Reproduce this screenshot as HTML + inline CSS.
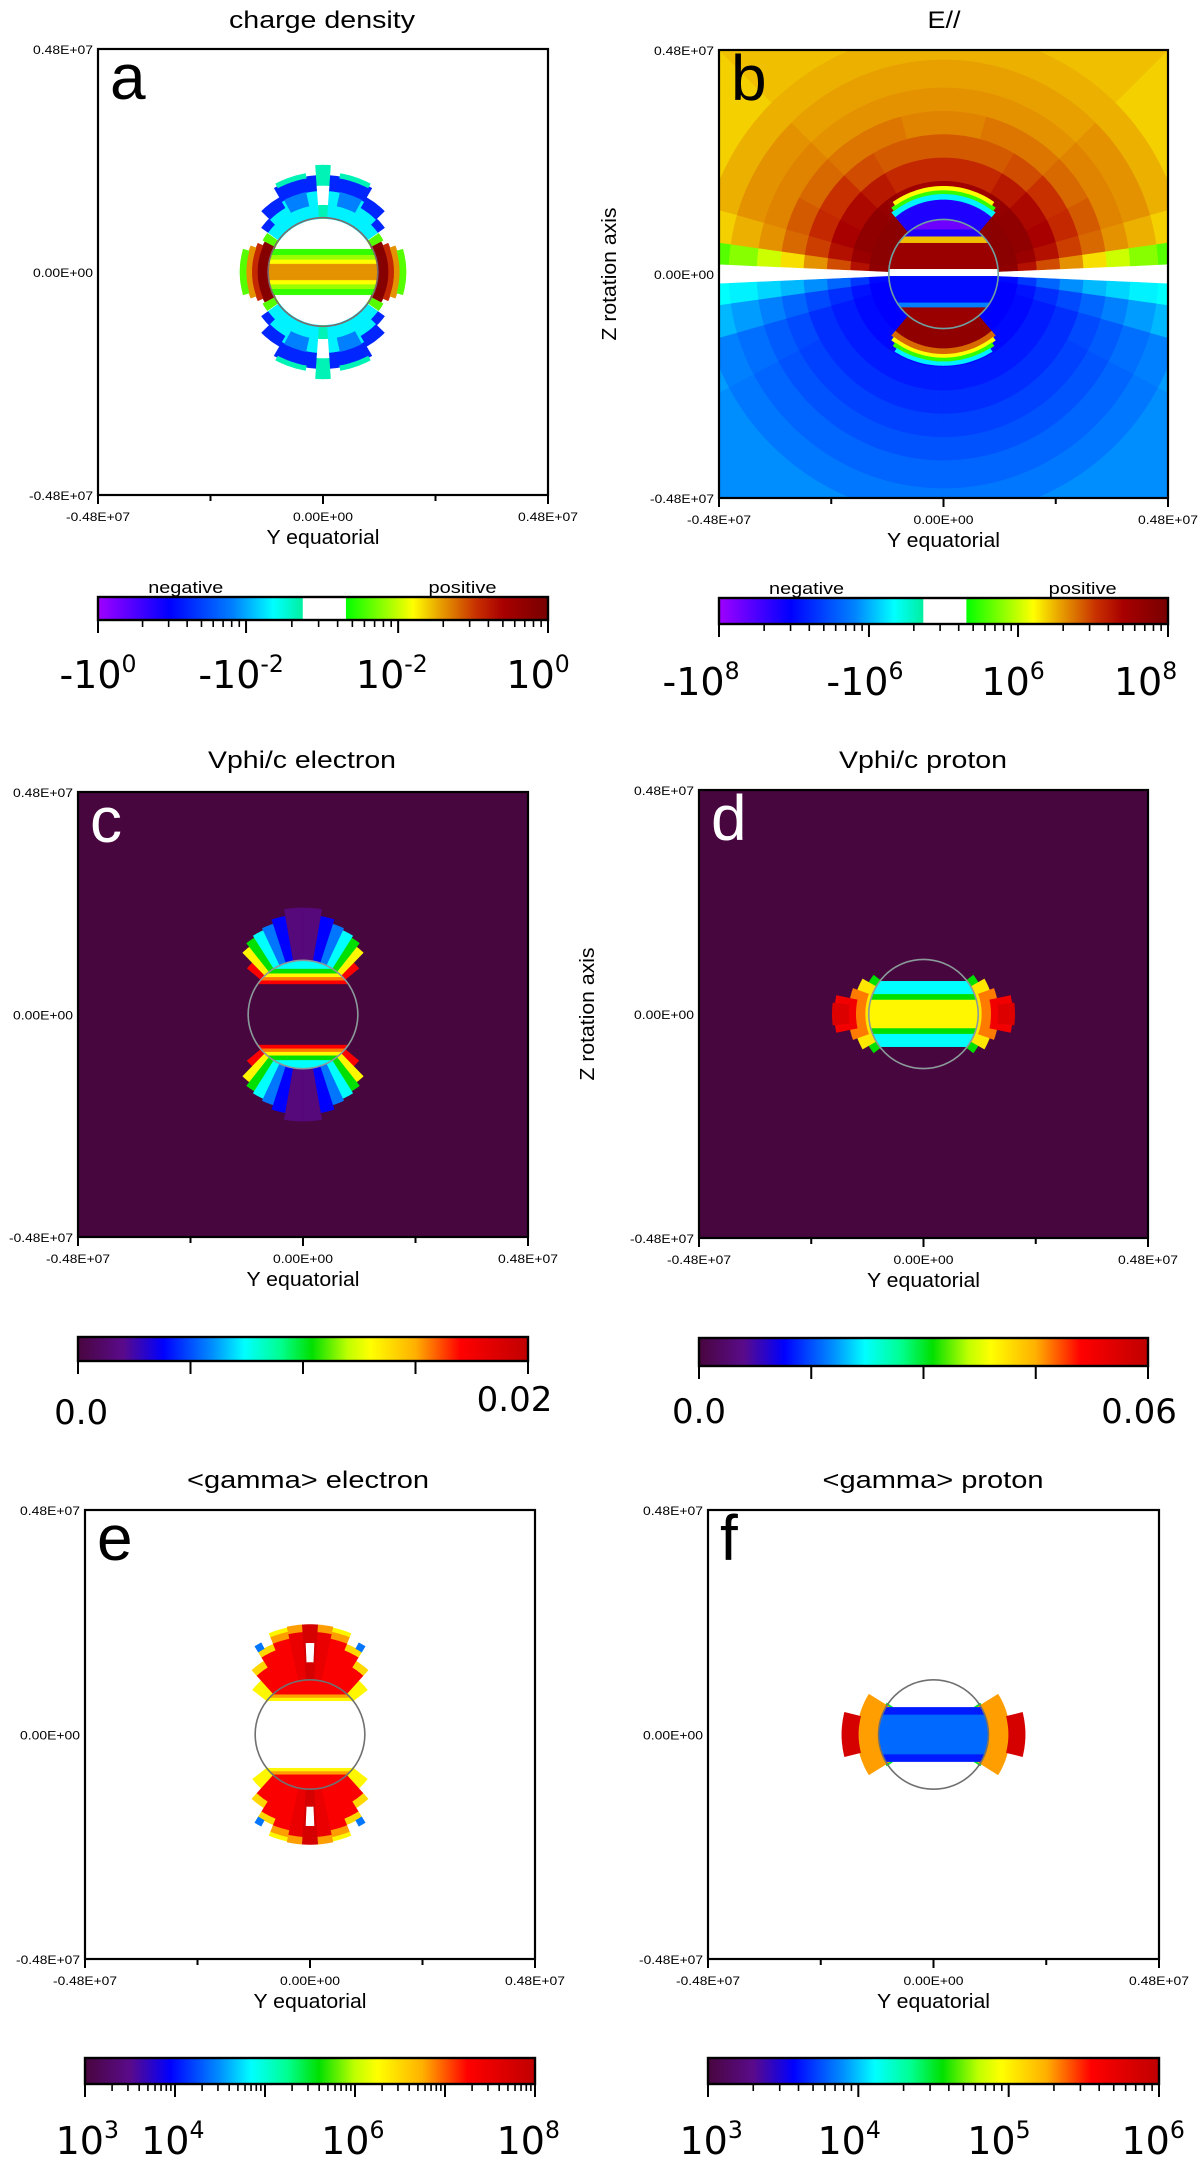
<!DOCTYPE html>
<html><head><meta charset="utf-8"><title>Magnetosphere maps</title>
<style>
html,body{margin:0;padding:0;background:#fff;}
svg{display:block;}
text{font-family:"Liberation Sans",Arial,sans-serif;fill:#000;}
.big{font-family:"DejaVu Sans","Liberation Sans",sans-serif;}
</style></head>
<body>
<svg id="fig" xmlns="http://www.w3.org/2000/svg" width="1200" height="2161" viewBox="0 0 1200 2161"></svg>
<script>
// ---------------- DATA (data units: 1e6 m, angles in degrees from equator) ----------------
const axisTickLabels = ['-0.48E+07','0.00E+00','0.48E+07'];
const axisRange = [-4.8, 4.8];
const starRadius = 1.17;

// panel a: charge density (values = position on signed colorbar, 0..1)
const aBands = [[-0.49,0.49,0.58],[-0.36,0.36,0.64],[-0.26,0.26,0.70],[-0.17,0.17,0.77]];
const aSectors = [
 [1.15,1.40,0,28,0.97],[1.40,1.52,0,24,0.85],[1.52,1.64,0,20,0.77],[1.64,1.77,0,16,0.60],[1.15,1.45,28,35,0.60],
 [1.15,1.45,36,45,0.38],[1.45,1.62,36,45,0.20],
 [1.15,1.60,45,60,0.38],[1.60,1.85,45,60,0.20],
 [1.15,1.75,60,86,0.38],[1.75,2.08,60,86,0.20],[2.05,2.15,62,80,0.44],[1.45,1.75,62,78,0.30],
 [1.15,2.30,86,90,0.44],[1.45,1.85,86,90,null]
];
// panel b: E parallel
const bRadii = [0,1.6,2.0,2.5,3.0,3.5,4.0,4.6,5.2,7.0];
const bAngles = [0,2.5,8,16,28,45,60,75,90];
const bUpper = [
 [null,0.95,0.96,0.96,0.96,0.96,0.96,0.96],
 [null,0.88,0.93,0.95,0.95,0.94,0.92,0.91],
 [null,0.82,0.88,0.90,0.89,0.87,0.85,0.85],
 [null,0.77,0.83,0.85,0.84,0.82,0.81,0.81],
 [null,0.72,0.80,0.81,0.80,0.79,0.79,0.78],
 [null,0.67,0.77,0.78,0.78,0.77,0.77,0.77],
 [null,0.63,0.75,0.77,0.77,0.76,0.76,0.76],
 [null,0.60,0.73,0.75,0.75,0.75,0.75,0.75],
 [null,0.58,0.71,0.73,0.73,0.74,0.74,0.74]
];
const bLower = [
 [null,0.17,0.16,0.16,0.16,0.16,0.16,0.16],
 [null,0.22,0.18,0.17,0.17,0.17,0.17,0.17],
 [null,0.27,0.21,0.19,0.19,0.19,0.19,0.19],
 [null,0.31,0.24,0.21,0.21,0.21,0.21,0.21],
 [null,0.34,0.27,0.24,0.23,0.23,0.23,0.23],
 [null,0.36,0.30,0.26,0.25,0.25,0.25,0.25],
 [null,0.38,0.32,0.28,0.27,0.27,0.27,0.27],
 [null,0.39,0.34,0.30,0.29,0.29,0.29,0.29],
 [null,0.40,0.36,0.32,0.31,0.31,0.31,0.31]
];
const bCaps = [
 [1.15,1.60,50,90,0.13],[1.60,1.72,50,90,0.38],[1.72,1.80,52,90,0.58],[1.80,1.88,55,90,0.70],
 [1.15,1.60,-90,-50,0.95],[1.60,1.72,-90,-50,0.80],[1.72,1.80,-90,-52,0.70],[1.80,1.88,-90,-55,0.58],[1.88,1.96,-90,-58,0.38]
];
const bBands = [[0.95,1.2,0.05],[0.80,0.95,0.13],[0.66,0.80,0.74],[0.10,0.66,0.93],[-0.05,0.10,null],[-0.62,-0.05,0.17],[-0.72,-0.62,0.30],[-1.2,-0.72,0.93]];
// panel c: Vphi/c electron (0..1 of 0.02)
const cBands = [[0.98,1.2,0.37],[0.88,0.98,0.52],[0.80,0.88,0.66],[0.73,0.80,0.78],[0.66,0.73,0.86]];
const cSectors = [
 [1.15,1.55,40,46,0.86],[1.15,1.85,46,52,0.66],[1.15,1.95,52,58,0.52],[1.15,2.0,58,65,0.37],
 [1.15,2.05,65,72,0.28],[1.15,2.15,72,80,0.19],[1.15,2.30,80,90,0.08]
];
// panel d: Vphi/c proton (0..1 of 0.06)
const dBands = [[-0.70,0.70,0.37],[-0.42,0.42,0.52],[-0.30,0.30,0.66]];
const dSectors = [
 [1.10,1.35,30,38,0.52],[1.10,1.50,0,30,0.68],[1.25,1.60,0,20,0.78],[1.45,1.90,0,12,0.88],[1.60,1.95,0,7,0.93]
];
// panel e: <gamma> electron (0..1 across 10^3..10^8)
const eBands = [[0.85,1.2,0.86],[0.78,0.85,0.76],[0.72,0.78,0.66]];
const eSectors = [
 [1.15,1.55,38,48,0.66],[1.15,1.70,48,58,0.86],[1.70,1.85,48,58,0.70],[1.15,1.95,58,68,0.86],[1.95,2.08,58,68,0.70],
 [1.15,2.10,68,78,0.86],[2.10,2.25,68,78,0.76],[2.25,2.33,68,78,0.66],[1.15,2.20,78,86,0.90],[2.20,2.35,78,86,0.76],
 [2.08,2.22,58,62,0.28],[1.15,2.35,86,90,0.95],[1.55,1.95,87.5,90,null]
];
// panel f: <gamma> proton (0..1 across 10^3..10^6)
const fBands = [[-0.58,0.58,0.21],[-0.42,0.42,0.27]];
const fSectors = [
 [1.05,1.20,22,34,0.50],[1.10,1.62,0,32,0.76],[1.60,1.95,0,14,0.95]
];

// ---------------- colormaps ----------------
const signedStops = [[0,'#a000ff'],[0.16,'#0000ff'],[0.30,'#0080ff'],[0.39,'#00ffff'],[0.455,'#00f0a0'],[0.55,'#00ff00'],[0.70,'#ffff00'],[0.76,'#e8a000'],[0.84,'#c83000'],[0.90,'#a80000'],[1,'#780000']];
const rainbowStops = [[0,'#48063e'],[0.1,'#5a0a8a'],[0.19,'#0000ff'],[0.3,'#0090ff'],[0.37,'#00ffff'],[0.45,'#00ff90'],[0.52,'#00e000'],[0.6,'#c0ff00'],[0.65,'#ffff00'],[0.75,'#ffb000'],[0.85,'#ff0000'],[1,'#c00000']];
function hex(c){return [parseInt(c.substr(1,2),16),parseInt(c.substr(3,2),16),parseInt(c.substr(5,2),16)];}
function cmap(stops,v){
  if(v===null) return '#ffffff';
  v=Math.max(0,Math.min(1,v));
  for(let i=1;i<stops.length;i++){
    if(v<=stops[i][0]){
      const t=(v-stops[i-1][0])/(stops[i][0]-stops[i-1][0]||1);
      const a=hex(stops[i-1][1]),b=hex(stops[i][1]);
      return 'rgb('+a.map((x,k)=>Math.round(x+(b[k]-x)*t)).join(',')+')';
    }
  }
  return stops[stops.length-1][1];
}

// ---------------- drawing helpers ----------------
const NS='http://www.w3.org/2000/svg';
const svg=document.getElementById('fig');
function el(tag,attrs,parent){const e=document.createElementNS(NS,tag);for(const k in attrs)e.setAttribute(k,attrs[k]);(parent||svg).appendChild(e);return e;}

function makePanel(cfg){
  const [x0,y0,x1,y1]=cfg.box;
  const g=el('g',{});
  
  
  const cx=(x0+x1)/2, cy=(y0+y1)/2;
  const sx=(x1-x0)/(axisRange[1]-axisRange[0]), sy=(y1-y0)/(axisRange[1]-axisRange[0]);
  const X=y=>cx+y*sx, Z=z=>cy-z*sy;
  const clipId='clip-'+cfg.id;
  const cp=el('clipPath',{id:clipId},g);
  el('rect',{x:x0,y:y0,width:x1-x0,height:y1-y0},cp);
  const plot=el('g',{'clip-path':'url(#'+clipId+')'},g);
  
  
  el('rect',{x:x0,y:y0,width:x1-x0,height:y1-y0,fill:cfg.bg},plot);
  const col=v=>cmap(cfg.stops,v);
  function sector(r0,r1,a0,a1,v,name){
    const n=14,pts=[];
    for(let i=0;i<=n;i++){const a=(a0+(a1-a0)*i/n)*Math.PI/180;pts.push([X(r1*Math.cos(a)),Z(r1*Math.sin(a))]);}
    for(let i=n;i>=0;i--){const a=(a0+(a1-a0)*i/n)*Math.PI/180;pts.push([X(r0*Math.cos(a)),Z(r0*Math.sin(a))]);}
    const p=el('polygon',{points:pts.map(p=>p[0].toFixed(1)+','+p[1].toFixed(1)).join(' '),fill:col(v),stroke:col(v),'stroke-width':0.6},plot);
    
    
  }
  function mirrored(list,mode,name){
    list.forEach(s=>{
      const [r0,r1,a0,a1,v]=s;
      let spans=[[a0,a1]];
      if(mode==='quad') spans=[[a0,a1],[180-a1,180-a0],[-a1,-a0],[180+a0,180+a1]];
      if(mode==='lr') spans=[[a0,a1],[180-a1,180-a0]];
      spans.forEach(sp=>sector(r0,r1,sp[0],sp[1],v,name));
    });
  }
  function bands(list,mirrorZ){
    const R=starRadius;
    const all=[];
    list.forEach(b=>{all.push(b);if(mirrorZ)all.push([-b[1],-b[0],b[2]]);});
    all.forEach(b=>{
      const z0=Math.max(-R,b[0]),z1=Math.min(R,b[1]),n=10,right=[],left=[];
      for(let i=0;i<=n;i++){const z=z0+(z1-z0)*i/n,w=Math.sqrt(Math.max(0,R*R-z*z));right.push([X(w),Z(z)]);left.unshift([X(-w),Z(z)]);}
      const pts=right.concat(left);
      const p=el('polygon',{points:pts.map(p=>p[0].toFixed(1)+','+p[1].toFixed(1)).join(' '),fill:col(b[2]),stroke:col(b[2]),'stroke-width':0.5},plot);
      
      
    });
  }
  if(cfg.matrix){
    cfg.matrix.forEach(m=>{
      m.vals.forEach((row,i)=>row.forEach((v,j)=>{
        const a0=bAngles[j],a1=bAngles[j+1];
        const s=m.sign;
        sector(bRadii[i],bRadii[i+1],s>0?a0:-a1,s>0?a1:-a0,v,'field-cell');
        sector(bRadii[i],bRadii[i+1],s>0?180-a1:180+a0,s>0?180-a0:180+a1,v,'field-cell');
      }));
    });
  }
  if(cfg.sectors) mirrored(cfg.sectors,cfg.mode,'lobe-cell');
  if(cfg.caps) mirrored(cfg.caps,'lr','cap-cell');
  if(cfg.bands) bands(cfg.bands,cfg.mirrorBands);
  const circ=el('ellipse',{cx:cx,cy:cy,rx:starRadius*sx,ry:starRadius*sy,fill:'none',stroke:cfg.circleColor,'stroke-width':1.6},g);
  
  
  const fr=el('rect',{x:x0,y:y0,width:x1-x0,height:y1-y0,fill:'none',stroke:'#000','stroke-width':2.2},g);
  
  
  for(let i=0;i<5;i++){const tx=x0+(x1-x0)*i/4;const t=el('line',{x1:tx,x2:tx,y1:y1,y2:y1+(i%2?6:9),stroke:'#000','stroke-width':2},g);}
  axisTickLabels.forEach((s,i)=>{
    const t=el('text',{x:x0+(x1-x0)*i/2,y:y1+26,'text-anchor':'middle','font-size':12,textLength:s.length>8?64:60,lengthAdjust:'spacingAndGlyphs'},g);t.textContent=s;
    
  });
  axisTickLabels.slice().reverse().forEach((s,i)=>{
    const t=el('text',{x:x0-5,y:y0+(y1-y0)*i/2+5,'text-anchor':'end','font-size':12,textLength:s.length>8?64:60,lengthAdjust:'spacingAndGlyphs'},g);t.textContent=s;
    
  });
  let t=el('text',{x:cx,y:y1+49,'text-anchor':'middle','font-size':20,textLength:113,lengthAdjust:'spacingAndGlyphs'},g);t.textContent='Y equatorial';
  
  t=el('text',{x:cfg.titleX,y:cfg.titleY,'text-anchor':'middle','font-size':24,textLength:cfg.titleW,lengthAdjust:'spacingAndGlyphs'},g);t.textContent=cfg.title;
  
  if(cfg.zlabel){
    t=el('text',{x:0,y:0,'text-anchor':'middle','font-size':20,textLength:133,lengthAdjust:'spacingAndGlyphs',transform:'translate('+cfg.zlabel+','+cy+') rotate(-90)'},g);t.textContent='Z rotation axis';
    
  }
  t=el('text',{x:x0+12,y:y0+50,'font-size':64,style:'fill:'+cfg.letterColor},g);t.textContent=cfg.letter;
  
  const [bx0,by0,bx1,by1]=cfg.cb;
  const gid='grad-'+cfg.id;
  const grad=el('linearGradient',{id:gid,x1:0,x2:1,y1:0,y2:0},g);
  cfg.stops.forEach(s=>el('stop',{offset:s[0],'stop-color':s[1]},grad));
  const cbg=el('g',{},g);
  
  
  el('rect',{x:bx0,y:by0,width:bx1-bx0,height:by1-by0,fill:'url(#'+gid+')'},cbg);
  if(cfg.signed){
    el('rect',{x:bx0+(bx1-bx0)*0.455,y:by0,width:(bx1-bx0)*0.096,height:by1-by0,fill:'#fff'},cbg);
    let tn=el('text',{x:bx0+(bx1-bx0)*0.195,y:by0-4,'text-anchor':'middle','font-size':17,textLength:75,lengthAdjust:'spacingAndGlyphs'},cbg);tn.textContent='negative';
    
    tn=el('text',{x:bx0+(bx1-bx0)*0.81,y:by0-4,'text-anchor':'middle','font-size':17,textLength:68,lengthAdjust:'spacingAndGlyphs'},cbg);tn.textContent='positive';
    
  }
  el('rect',{x:bx0,y:by0,width:bx1-bx0,height:by1-by0,fill:'none',stroke:'#000','stroke-width':2.4},cbg);
  const W=bx1-bx0;
  cfg.majors.forEach((f,i)=>{
    const tx=bx0+W*f;
    el('line',{x1:tx,x2:tx,y1:by1,y2:by1+13,stroke:'#000','stroke-width':2},cbg);
    if(cfg.logMinor && i<cfg.majors.length-1){
      const nx=bx0+W*cfg.majors[i+1];
      for(let k=2;k<=9;k++){const mx=tx+(nx-tx)*Math.log10(k);el('line',{x1:mx,x2:mx,y1:by1,y2:by1+7,stroke:'#000','stroke-width':1.6},cbg);}
    }
  });
  cfg.cbLabels.forEach(L=>{
    const tt=el('text',{x:bx0+W*L[0],y:L[3],'text-anchor':'middle','font-size':cfg.cbFont,class:'big'},cbg);
    tt.appendChild(document.createTextNode(L[1]));
    if(L[2]!==''){const sp=el('tspan',{'font-size':cfg.cbFont*0.62,dy:-cfg.cbFont*0.42},tt);sp.textContent=L[2];}
    
  });
}

makePanel({id:'a',box:[98,49,548,495],bg:'#fff',stops:signedStops,signed:true,sectors:aSectors,mode:'quad',bands:aBands,mirrorBands:false,
 circleColor:'#7d6a6a',title:'charge density',titleX:322,titleY:28,titleW:186,letter:'a',letterColor:'#000',
 cb:[98,597,548,620],majors:[0,0.329,0.667,1],logMinor:true,cbFont:38,
 cbLabels:[[0,'-10','0',688],[0.318,'-10','-2',688],[0.653,'10','-2',688],[0.978,'10','0',688]]});
makePanel({id:'b',box:[719,50,1168,498],bg:'#fff',stops:signedStops,signed:true,matrix:[{vals:bUpper,sign:1},{vals:bLower,sign:-1}],caps:bCaps,bands:bBands,mirrorBands:false,
 circleColor:'#6fa0a0',title:'E//',titleX:944,titleY:28,titleW:33,letter:'b',letterColor:'#000',zlabel:616,
 cb:[719,598,1168,624],majors:[0,0.334,0.666,1],logMinor:true,cbFont:38,
 cbLabels:[[-0.04,'-10','8',695],[0.325,'-10','6',695],[0.655,'10','6',695],[0.95,'10','8',695]]});
makePanel({id:'c',box:[78,792,528,1237],bg:cmap(rainbowStops,0),stops:rainbowStops,sectors:cSectors,mode:'quad',bands:cBands,mirrorBands:true,
 circleColor:'#8a9a9a',title:'Vphi/c electron',titleX:302,titleY:768,titleW:188,letter:'c',letterColor:'#fff',
 cb:[78,1337,528,1361],majors:[0,0.25,0.5,0.75,1],logMinor:false,cbFont:34,
 cbLabels:[[0.007,'0.0','',1424],[0.97,'0.02','',1411]]});
makePanel({id:'d',box:[699,790,1148,1238],bg:cmap(rainbowStops,0),stops:rainbowStops,sectors:dSectors,mode:'quad',bands:dBands,mirrorBands:false,
 circleColor:'#8a9a9a',title:'Vphi/c proton',titleX:923,titleY:768,titleW:168,letter:'d',letterColor:'#fff',zlabel:594,
 cb:[699,1338,1148,1366],majors:[0,0.25,0.5,0.75,1],logMinor:false,cbFont:34,
 cbLabels:[[0,'0.0','',1423],[0.98,'0.06','',1423]]});
makePanel({id:'e',box:[85,1510,535,1959],bg:'#fff',stops:rainbowStops,sectors:eSectors,mode:'quad',bands:eBands,mirrorBands:true,
 circleColor:'#707070',title:'<gamma> electron',titleX:308,titleY:1488,titleW:242,letter:'e',letterColor:'#000',
 cb:[85,2058,535,2084],majors:[0,0.2,0.4,0.6,0.8,1],logMinor:true,cbFont:38,
 cbLabels:[[0.005,'10','3',2154],[0.195,'10','4',2154],[0.595,'10','6',2154],[0.985,'10','8',2154]]});
makePanel({id:'f',box:[708,1510,1159,1959],bg:'#fff',stops:rainbowStops,sectors:fSectors,mode:'quad',bands:fBands,mirrorBands:false,
 circleColor:'#707070',title:'<gamma> proton',titleX:933,titleY:1488,titleW:221,letter:'f',letterColor:'#000',
 cb:[708,2058,1159,2084],majors:[0,0.3333,0.6667,1],logMinor:true,cbFont:38,
 cbLabels:[[0.007,'10','3',2154],[0.313,'10','4',2154],[0.645,'10','5',2154],[0.987,'10','6',2154]]});
</script>
</body></html>
